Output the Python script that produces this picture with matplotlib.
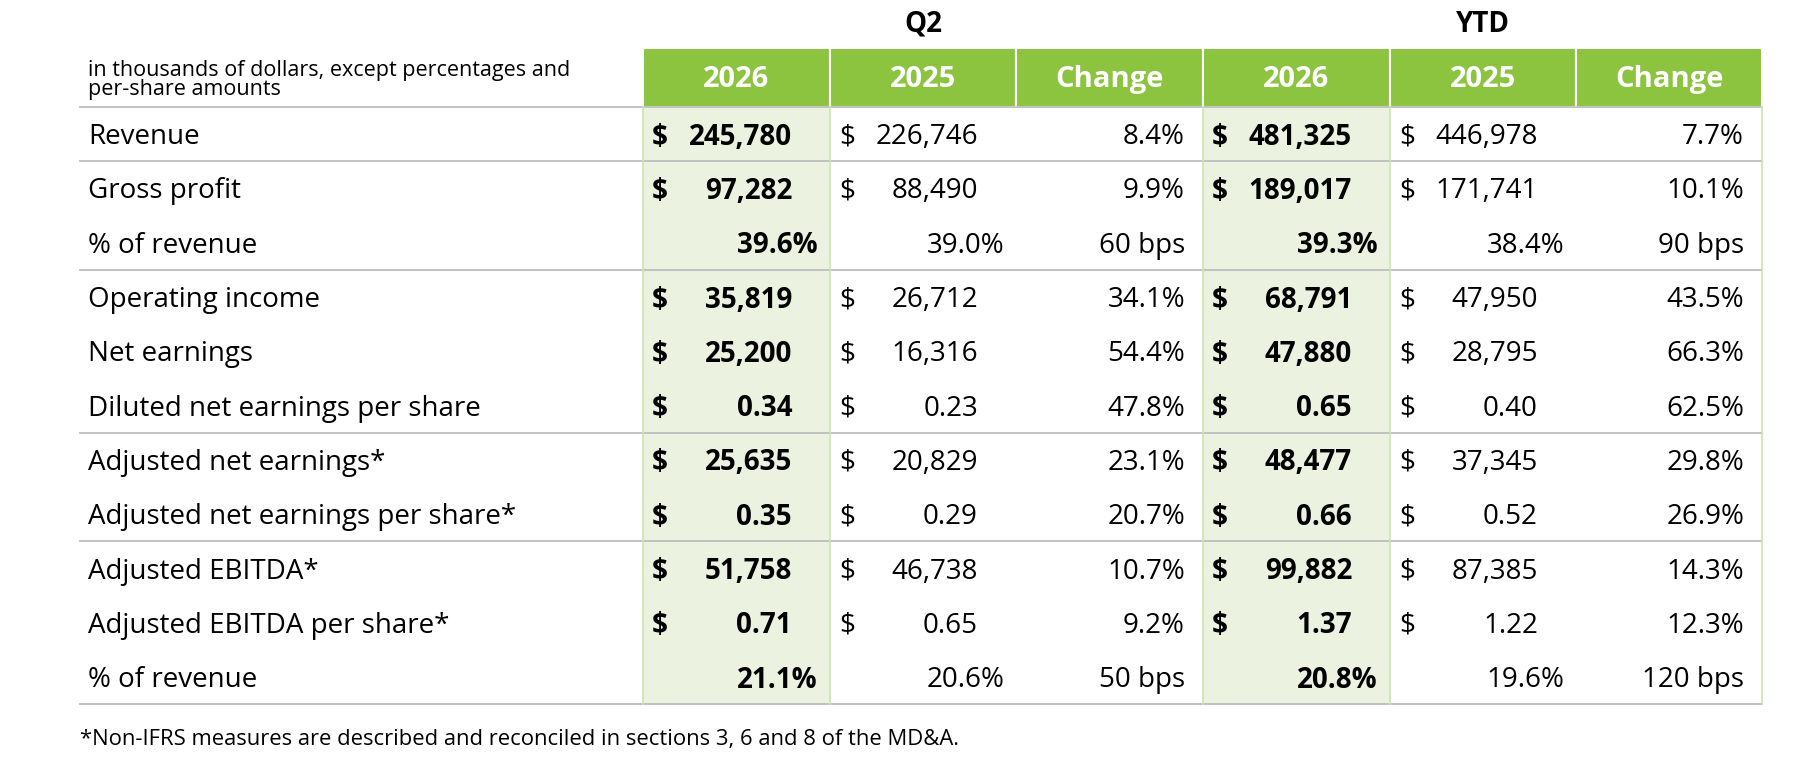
import matplotlib.pyplot as plt
from matplotlib.patches import Rectangle

plt.rcParams['font.family'] = ['Open Sans', 'DejaVu Sans']

# --- Table data ---
labels = ['Revenue', 'Gross profit', '% of revenue', 'Operating income', 'Net earnings',
          'Diluted net earnings per share', 'Adjusted net earnings*',
          'Adjusted net earnings per share*', 'Adjusted EBITDA*',
          'Adjusted EBITDA per share*', '% of revenue']
kinds = ['money', 'money', 'pct', 'money', 'money', 'eps', 'money', 'eps', 'money', 'eps', 'pct']
q2_2026 = [245780, 97282, 39.6, 35819, 25200, 0.34, 25635, 0.35, 51758, 0.71, 21.1]
q2_2025 = [226746, 88490, 39.0, 26712, 16316, 0.23, 20829, 0.29, 46738, 0.65, 20.6]
q2_change = ['8.4%', '9.9%', '60 bps', '34.1%', '54.4%', '47.8%', '23.1%', '20.7%', '10.7%', '9.2%', '50 bps']
ytd_2026 = [481325, 189017, 39.3, 68791, 47880, 0.65, 48477, 0.66, 99882, 1.37, 20.8]
ytd_2025 = [446978, 171741, 38.4, 47950, 28795, 0.40, 37345, 0.52, 87385, 1.22, 19.6]
ytd_change = ['7.7%', '10.1%', '90 bps', '43.5%', '66.3%', '62.5%', '29.8%', '26.9%', '14.3%', '12.3%', '120 bps']
col_headers = ['2026', '2025', 'Change', '2026', '2025', 'Change']
group_headers = ['Q2', 'YTD']
unit_note = 'in thousands of dollars, except percentages and\nper-share amounts'
footnote = '*Non-IFRS measures are described and reconciled in sections 3, 6 and 8 of the MD&A.'

GREEN = '#8cc43f'
LIGHT = '#ebf2df'
LINE = '#bdbdbd'

W, H = 1800, 762
fig = plt.figure(figsize=(W / 100, H / 100), dpi=100)
ax = fig.add_axes([0, 0, 1, 1])
ax.set_xlim(0, W)
ax.set_ylim(H, 0)
ax.axis('off')

col_x = [643, 830, 1016, 1203, 1390, 1576, 1762]
head_top, head_bot = 48, 107
row_h = 54.3
n = len(labels)
table_bot = head_bot + n * row_h

# light green background on 2026 columns
for c in (0, 3):
    ax.add_patch(Rectangle((col_x[c], head_bot), col_x[c + 1] - col_x[c], n * row_h,
                           facecolor=LIGHT, edgecolor='none'))
# green header cells
for c in range(6):
    ax.add_patch(Rectangle((col_x[c], head_top), col_x[c + 1] - col_x[c], head_bot - head_top,
                           facecolor=GREEN, edgecolor='white', linewidth=1.5))
    ax.text((col_x[c] + col_x[c + 1]) / 2, (head_top + head_bot) / 2 + 2, col_headers[c],
            color='white', fontsize=21, fontweight='bold', ha='center', va='center')
for g, name in enumerate(group_headers):
    ax.text((col_x[3 * g] + col_x[3 * g + 3]) / 2, 24, name, fontsize=20,
            fontweight='bold', ha='center', va='center')
ax.text(88, 80, unit_note, fontsize=15.5, ha='left', va='center', linespacing=0.88)

# horizontal rules
for r in [0, 1, 3, 6, 8, 11]:
    y = head_bot + r * row_h
    ax.plot([80, col_x[-1]], [y, y], color=LINE, lw=1.3)
# faint vertical borders
for x in (col_x[0], col_x[1], col_x[3], col_x[4], col_x[-1]):
    ax.plot([x, x], [head_bot, table_bot], color='#cfe3b0', lw=1.2)


def fmt(v, kind):
    if kind == 'money':
        return f'{v:,.0f}'
    if kind == 'eps':
        return f'{v:.2f}'
    return f'{v:.1f}%'


fs = 20
for i in range(n):
    y = head_bot + (i + 0.5) * row_h + 3
    ax.text(88, y, labels[i], fontsize=fs, ha='left', va='center')
    for g, (cur, prev, chg) in enumerate([(q2_2026, q2_2025, q2_change),
                                         (ytd_2026, ytd_2025, ytd_change)]):
        c0 = 3 * g
        for k, vals, bold in ((0, cur, True), (1, prev, False)):
            left, right = col_x[c0 + k], col_x[c0 + k + 1]
            wt = 'bold' if bold else 'normal'
            if kinds[i] == 'pct':
                ax.text(right - 12, y, fmt(vals[i], 'pct'), fontsize=fs,
                        fontweight=wt, ha='right', va='center')
            else:
                ax.text(left + 9, y, '$', fontsize=fs, fontweight=wt, ha='left', va='center')
                ax.text(right - 38, y, fmt(vals[i], kinds[i]), fontsize=fs, fontweight=wt,
                        ha='right', va='center')
        ax.text(col_x[c0 + 3] - 18, y, chg[i], fontsize=fs, ha='right', va='center')

ax.text(80, 740, footnote, fontsize=15.8, ha='left', va='center')

fig.savefig('out.png', dpi=100)
